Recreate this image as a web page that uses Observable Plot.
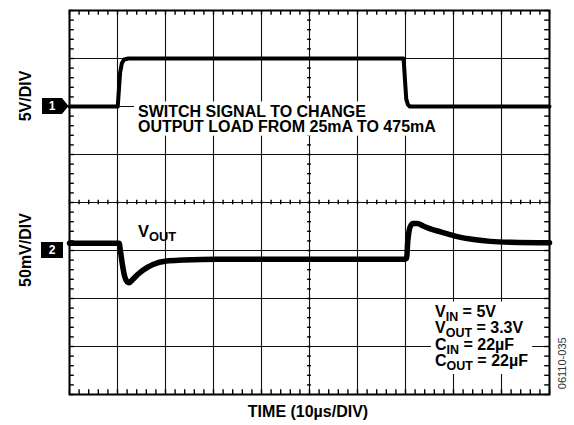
<!DOCTYPE html>
<html><head><meta charset="utf-8">
<script src="https://cdn.jsdelivr.net/npm/d3@7"></script>
<script src="https://cdn.jsdelivr.net/npm/@observablehq/plot@0.6"></script>
<style>
html,body{margin:0;padding:0;background:#fff;}
#chart{width:574px;height:425px;overflow:hidden;}
</style></head><body><div id="chart"></div>
<script>
// ---- data ----
const timeGridUs = [0, 10, 20, 30, 40, 50, 60, 70, 80, 90, 100];   // 10 µs/div
const divGrid = [-4, -3, -2, -1, 0, 1, 2, 3, 4];
// Channel 1: switch signal, volts (5 V/div)
const ch1Time = [0, 10.05, 10.54, 10.9, 11.38, 12.27, 69.6, 70.15, 70.5, 70.9, 100];
const ch1Volts = [0, 0, 3.5, 4.5, 4.9, 5.0, 5.0, 0.8, 0.2, 0, 0];
// Channel 2: VOUT deviation, mV (50 mV/div)
const ch2Time = [0, 10.35, 10.6, 11.0, 11.5, 12.0, 12.4, 13.2, 14.2, 15.3, 17.4, 20.2, 23.7, 30.6,
                 69.8, 70.25, 70.45, 70.7, 71.0, 71.6, 72.5, 73.7, 75.5, 77.3, 80.8, 84.2, 87.7, 92, 100];
const ch2mV = [7.5, 7.5, 0, -14, -27, -32.5, -33.5, -30, -25, -20.5, -14.5, -11, -10, -9,
               -9, -8, 8, 19, 25, 28, 28, 25.5, 22, 19.5, 14.5, 11.5, 9.5, 8.5, 8];
const ch1Scale = "5V/DIV";
const ch2Scale = "50mV/DIV";
const ch1VoltsPerDiv = 5;
const ch2mVPerDiv = 50;
const ch1RefDiv = 2;
const ch2RefDiv = -1;
const timeLabel = "TIME (10µs/DIV)";
const switchNote = "SWITCH SIGNAL TO CHANGE\nOUTPUT LOAD FROM 25mA TO 475mA";
const voutLabel = "V_{OUT}";
const conditions = "V_{IN} = 5V\nV_{OUT} = 3.3V\nC_{IN} = 22µF\nC_{OUT} = 22µF";
const figureId = "06110-035";

// ---- build ----
const FONT = "'Liberation Sans', Arial, Helvetica, sans-serif";
const ch1 = ch1Time.map((t, i) => ({t, v: ch1RefDiv + ch1Volts[i] / ch1VoltsPerDiv}));
const ch2 = ch2Time.map((t, i) => ({t, v: ch2RefDiv + ch2mV[i] / ch2mVPerDiv}));
const minorX = d3.range(0, 100.001, 2);
const minorY = d3.range(-4, 4.001, 0.2);
const EDGE_T = 0.1, CEN_T = 0.045, EDGE_X = 1.0, CEN_X = 0.4;

const plot = Plot.plot({
  width: 574, height: 425,
  marginLeft: 69, marginRight: 25, marginTop: 10, marginBottom: 31,
  x: {domain: [0, 100], axis: null},
  y: {domain: [-4, 4], axis: null},
  style: {fontFamily: FONT, background: "white", overflow: "visible"},
  marks: [
    Plot.ruleX(timeGridUs, {stroke: "#111", strokeWidth: 1.1}),
    Plot.ruleY(divGrid, {stroke: "#111", strokeWidth: 1.1}),
    // minor tick marks on the frame edges
    Plot.ruleX(minorX, {x: d => d, y1: 4, y2: 4 - EDGE_T, stroke: "#000", strokeWidth: 1.4}),
    Plot.ruleX(minorX, {x: d => d, y1: -4, y2: -4 + EDGE_T, stroke: "#000", strokeWidth: 1.4}),
    Plot.ruleY(minorY, {y: d => d, x1: 0, x2: EDGE_X, stroke: "#000", strokeWidth: 1.4}),
    Plot.ruleY(minorY, {y: d => d, x1: 100, x2: 100 - EDGE_X, stroke: "#000", strokeWidth: 1.4}),
    // minor tick marks on the centre axes
    Plot.ruleX(minorX, {x: d => d, y1: -CEN_T, y2: CEN_T, stroke: "#000", strokeWidth: 1.4}),
    Plot.ruleY(minorY, {y: d => d, x1: 50 - CEN_X, x2: 50 + CEN_X, stroke: "#000", strokeWidth: 1.4}),
    // annotations
    Plot.text([switchNote], {x: 14.27, y: 1.475, text: d => d, textAnchor: "start", lineAnchor: "bottom",
      lineHeight: 0.95, fontSize: 16, fontWeight: "bold", fill: "#000"}),
    Plot.text([conditions], {x: 76.15, y: -3.406, text: d => d, textAnchor: "start", lineAnchor: "bottom",
      lineHeight: 1.03, fontSize: 16, fontWeight: "bold", fill: "#000"}),
    Plot.text([voutLabel], {x: 14.27, y: -0.719, text: d => d, textAnchor: "start", lineAnchor: "bottom",
      fontSize: 16.5, fontWeight: "bold", fill: "#000"}),
    // traces
    Plot.line(ch1, {x: "t", y: "v", stroke: "#000", strokeWidth: 4, strokeLinejoin: "round"}),
    Plot.line(ch2, {x: "t", y: "v", stroke: "#000", strokeWidth: 5.5, strokeLinejoin: "round", curve: "monotone-x"}),
    Plot.frame({stroke: "#000", strokeWidth: 2}),
    Plot.text([timeLabel], {frameAnchor: "bottom", x: 50, dy: 22.5, dx: -1.5, text: d => d, lineAnchor: "bottom",
      fontSize: 16, fontWeight: "bold", fill: "#000"})
  ]
});

// subscripts
const SUB = 4;
plot.querySelectorAll("text, tspan").forEach(el => {
  if (el.children.length) return;
  const s = el.textContent;
  if (!s.includes("_{")) return;
  el.textContent = "";
  const parts = s.split(/_\{([^}]*)\}/);
  parts.forEach((p, i) => {
    if (!p) return;
    const ts = document.createElementNS("http://www.w3.org/2000/svg", "tspan");
    ts.textContent = p;
    if (i % 2 === 1) { ts.setAttribute("dy", SUB); ts.setAttribute("font-size", "0.78em"); }
    else if (i > 0) ts.setAttribute("dy", -SUB);
    el.appendChild(ts);
  });
});

// channel markers and rotated labels (placed with the plot's own scales)
const xs = plot.scale("x"), ys = plot.scale("y");
const svg = d3.select(plot);
const g = svg.append("g").attr("font-family", FONT);
const y1 = ys.apply(ch1RefDiv), y2 = ys.apply(ch2RefDiv);
g.append("path").attr("d", `M42,${y1 - 8}H62L68.5,${y1}L62,${y1 + 8}H42Z`).attr("fill", "#000");
g.append("text").attr("x", 52).attr("y", y1).attr("dy", "0.36em").attr("text-anchor", "middle")
  .attr("fill", "white").attr("font-weight", "bold").attr("font-size", 12).text("1");
g.append("rect").attr("x", 41).attr("y", y2 - 8).attr("width", 22).attr("height", 16).attr("fill", "#000");
g.append("text").attr("x", 52).attr("y", y2).attr("dy", "0.36em").attr("text-anchor", "middle")
  .attr("fill", "white").attr("font-weight", "bold").attr("font-size", 12).text("2");
function vlabel(txt, cx, cy, size, weight, fill) {
  g.append("text").attr("transform", `translate(${cx},${cy}) rotate(-90)`)
    .attr("text-anchor", "middle").attr("dy", "0.35em")
    .attr("font-size", size).attr("font-weight", weight).attr("fill", fill).text(txt);
}
vlabel(ch1Scale, 25, y1 - 10, 16, "bold", "#000");
vlabel(ch2Scale, 25, y2, 16, "bold", "#000");
vlabel(figureId, xs.apply(100) + 13, ys.apply(-3.36), 11, "normal", "#333");

document.getElementById("chart").appendChild(plot);

// white panels behind the two annotation blocks (sized from the rendered text)
const root = plot.getBoundingClientRect();
plot.querySelectorAll("text").forEach(t => {
  const s = t.textContent;
  if (!(s.startsWith("SWITCH") || s.startsWith("VIN"))) return;
  const b = t.getBoundingClientRect();
  const grp = t.closest("g");
  const r = document.createElementNS("http://www.w3.org/2000/svg", "rect");
  r.setAttribute("x", b.left - root.left - 4);
  r.setAttribute("y", b.top - root.top - 1);
  r.setAttribute("width", b.width + 8);
  r.setAttribute("height", b.height + 2);
  r.setAttribute("fill", "white");
  grp.parentNode.insertBefore(r, grp);
});
</script></body></html>
